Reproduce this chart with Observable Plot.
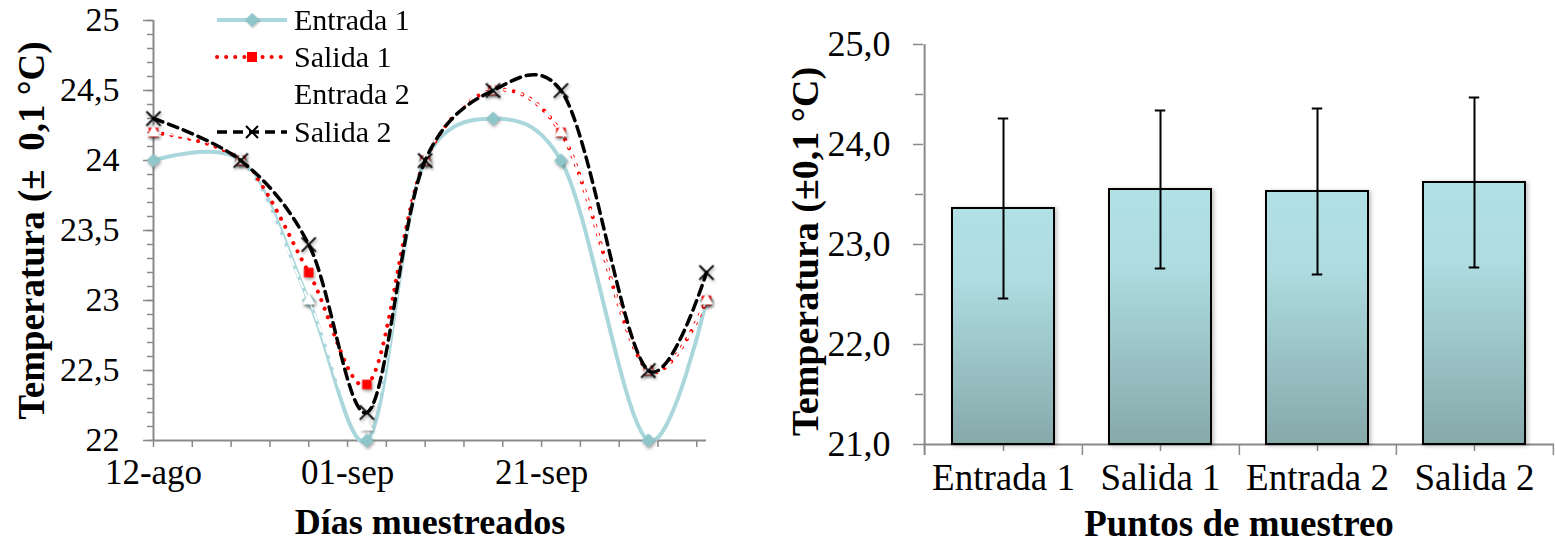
<!DOCTYPE html>
<html><head><meta charset="utf-8">
<script src="https://cdn.jsdelivr.net/npm/d3@7"></script>
<script src="https://cdn.jsdelivr.net/npm/@observablehq/plot@0.6"></script>
<style>
html,body{margin:0;padding:0;background:#fff;}
#wrap{position:relative;width:1555px;height:556px;overflow:hidden;font-family:"Liberation Serif","Times New Roman",serif;}
#left{position:absolute;left:0;top:0;}
#right{position:absolute;left:760px;top:0;}
#legend{position:absolute;left:217px;top:1px;}
.row{display:flex;align-items:center;height:37.3px;}
.row svg{display:block;overflow:visible}
.row span{font-size:30px;margin-left:7px;line-height:1;color:#000;white-space:nowrap}
</style></head><body>
<div id="wrap"><div id="left"></div><div id="right"></div><div id="legend"></div></div>
<script>
// ---------- data: left chart ----------
const dates = ["2013-08-12","2013-08-21","2013-08-28","2013-09-03","2013-09-09","2013-09-16","2013-09-23","2013-10-02","2013-10-08"];
const series = ["Entrada 1","Salida 1","Entrada 2","Salida 2"];
const entrada1 = [24.0, 24.0, 23.0, 22.0, 24.0, 24.3, 24.0, 22.0, 23.0];
const salida1  = [24.2, 24.0, 23.2, 22.4, 24.0, 24.5, 24.2, 22.5, 23.0];
const entrada2 = [24.2, 24.0, 23.0, 22.1, 24.0, 24.5, 24.2, 22.5, 23.0];
const salida2  = [24.3, 24.0, 23.4, 22.2, 24.0, 24.5, 24.5, 22.5, 23.2];
const xTickDates  = ["2013-08-12","2013-09-01","2013-09-21"];
const xTickLabels = ["12-ago","01-sep","21-sep"];
const yTicksLeft  = [22, 22.5, 23, 23.5, 24, 24.5, 25];
const yDomainLeft = [22, 25];
const xTitleLeft = "Días muestreados";
const yTitleLeft = "Temperatura (±  0,1 °C)";

// ---------- data: right chart ----------
const points = ["Entrada 1","Salida 1","Entrada 2","Salida 2"];
const means  = [23.36, 23.55, 23.53, 23.62];
const errors = [0.90, 0.79, 0.83, 0.85];
const yTicksRight  = [21, 22, 23, 24, 25];
const yMinorRight  = [21.5, 22.5, 23.5, 24.5];
const yDomainRight = [21, 25];
const xTitleRight = "Puntos de muestreo";
const yTitleRight = "Temperatura (±0,1 °C)";

// ---------- styles ----------
const FONT = '"Liberation Serif","Times New Roman",serif';
const AXIS = "#898989";
const C_E1 = "#A9D7DB", C_E1M = "#8FC6CA";
const CURVE = "catmull-rom", ALPHA = 0.2;
const parse = d3.utcParse("%Y-%m-%d");
const comma = d => String(d).replace(".", ",");

const seriesVals = [entrada1, salida1, entrada2, salida2];
const rows = [];
series.forEach((s, i) => dates.forEach((d, j) => rows.push({series: s, date: parse(d), value: seriesVals[i][j]})));
const sub = s => rows.filter(r => r.series === s);
const xDomain = [parse(dates[0]), parse(dates[dates.length - 1])];
const minorX = d3.range(0, d3.utcDay.count(xDomain[0], xDomain[1]), 4).map(k => d3.utcDay.offset(xDomain[0], k));
const minorYLeft = d3.range(220, 251).map(v => v / 10);
const xTicks = xTickDates.map((d, i) => ({date: parse(d), label: xTickLabels[i]}));

const left = Plot.plot({
  width: 760, height: 556,
  marginLeft: 153, marginRight: 54, marginTop: 20, marginBottom: 116,
  x: {type: "utc", domain: xDomain, label: null},
  y: {domain: yDomainLeft, label: null},
  style: {fontFamily: FONT, fontSize: "34px", color: "#000", background: "transparent", overflow: "visible"},
  marks: [
    Plot.axisY(minorYLeft, {tickSize: 6, tickFormat: () => "", stroke: AXIS, strokeWidth: 1.5}),
    Plot.axisY(yTicksLeft, {tickSize: 10, tickPadding: 24, tickFormat: comma, fontSize: 34, stroke: AXIS, strokeWidth: 1.5, fill: "#000"}),
    Plot.axisX(minorX, {tickSize: 7, tickFormat: () => "", stroke: AXIS, strokeWidth: 1.5}),
    Plot.ruleX([xDomain[0]], {stroke: AXIS, strokeWidth: 2}),
    Plot.ruleY([yDomainLeft[0]], {stroke: AXIS, strokeWidth: 2}),
    Plot.text(xTicks, {x: "date", text: "label", frameAnchor: "bottom", dy: 43, fontSize: 35}),
    Plot.text([xTitleLeft], {frameAnchor: "bottom", dy: 93, fontSize: 36, fontWeight: "bold"}),
    Plot.text([yTitleLeft], {frameAnchor: "left", rotate: -90, dx: -121, textAnchor: "middle", fontSize: 37, fontWeight: "bold"}),
    // Entrada 1
    Plot.line(sub("Entrada 1"), {x: "date", y: "value", stroke: C_E1, strokeWidth: 4, curve: CURVE, tension: ALPHA}),
    Plot.dot(sub("Entrada 1"), {x: "date", y: "value", symbol: "diamond2", r: 6.3, fill: C_E1M, stroke: "none"}),
    // Salida 1
    Plot.line(sub("Salida 1"), {x: "date", y: "value", stroke: "#FF0000", strokeWidth: 4, strokeDasharray: "0.1,9", strokeLinecap: "round", curve: CURVE, tension: ALPHA}),
    Plot.dot(sub("Salida 1"), {x: "date", y: "value", symbol: "square", r: 5.4, fill: "#FF0000", stroke: "none"}),
    // Entrada 2 (white)
    Plot.line(sub("Entrada 2"), {x: "date", y: "value", stroke: "#FFFFFF", strokeWidth: 2, strokeDasharray: "7,5", curve: CURVE, tension: ALPHA}),
    Plot.dot(sub("Entrada 2"), {x: "date", y: "value", symbol: "triangle", r: 5, fill: "#FFFFFF", stroke: "none"}),
    // Salida 2
    Plot.line(sub("Salida 2"), {x: "date", y: "value", stroke: "#000", strokeWidth: 3.5, strokeDasharray: "10,6", curve: CURVE, tension: ALPHA}),
    Plot.dot(sub("Salida 2"), {x: "date", y: "value", symbol: "times", r: 6.5, stroke: "#000", strokeWidth: 2})
  ]
});
left.querySelectorAll('g[aria-label="dot"]').forEach(g => g.style.filter = "drop-shadow(1.5px 2px 1.5px rgba(0,0,0,0.35))");
document.getElementById("left").appendChild(left);

// ---------- right chart ----------
const RW = 795, RH = 556, RmL = 163, RmR = 1, RmT = 44, RmB = 112;
const step = (RW - RmL - RmR) / points.length;
const pxPerUnit = (RH - RmT - RmB) / (yDomainRight[1] - yDomainRight[0]);
const tickU = 11 / pxPerUnit;
const barData = points.map((p, i) => ({point: p, mean: means[i], err: errors[i]}));
const bandW = step * 0.65, capW = 11, capInset = (bandW - capW) / 2;

function gradientDefs() {
  const defs = document.createElementNS("http://www.w3.org/2000/svg", "defs");
  defs.innerHTML = '<linearGradient id="barGrad" x1="0" y1="0" x2="0" y2="1">' +
    '<stop offset="0" stop-color="#B2E1E5"/><stop offset="0.3" stop-color="#AEDCE0"/>' +
    '<stop offset="1" stop-color="#86A9AA"/></linearGradient>';
  return defs;
}

const right = Plot.plot({
  width: RW, height: RH,
  marginLeft: RmL, marginRight: RmR, marginTop: RmT, marginBottom: RmB,
  x: {type: "band", domain: points, paddingInner: 0.35, paddingOuter: 0.175, label: null},
  y: {domain: yDomainRight, label: null},
  style: {fontFamily: FONT, fontSize: "36px", color: "#000", background: "transparent", overflow: "visible"},
  marks: [
    gradientDefs,
    Plot.axisY(yMinorRight, {tickSize: 8, tickFormat: () => "", stroke: AXIS, strokeWidth: 1.5}),
    Plot.axisY(yTicksRight, {tickSize: 10, tickPadding: 23, tickFormat: d => d.toFixed(1).replace(".", ","), fontSize: 36, stroke: AXIS, strokeWidth: 1.5, fill: "#000"}),
    Plot.axisX(points, {tickSize: 7, tickFormat: () => "", stroke: AXIS, strokeWidth: 1.5}),
    Plot.ruleX([points[0]], {y1: yDomainRight[1], y2: yDomainRight[0] - tickU, dx: -step / 2, stroke: AXIS, strokeWidth: 2}),
    Plot.ruleX(points, {y1: yDomainRight[0], y2: yDomainRight[0] - tickU, dx: step / 2, stroke: AXIS, strokeWidth: 1.5}),
    Plot.ruleY([yDomainRight[0]], {stroke: AXIS, strokeWidth: 2}),
    Plot.barY(barData, {x: "point", y1: () => yDomainRight[0], y2: "mean", fill: "url(#barGrad)", stroke: "#000", strokeWidth: 2}),
    Plot.ruleX(barData, {x: "point", y1: d => d.mean - d.err, y2: d => d.mean + d.err, stroke: "#000", strokeWidth: 2}),
    Plot.tickY(barData, {x: "point", y: d => d.mean + d.err, insetLeft: capInset, insetRight: capInset, stroke: "#000", strokeWidth: 2}),
    Plot.tickY(barData, {x: "point", y: d => d.mean - d.err, insetLeft: capInset, insetRight: capInset, stroke: "#000", strokeWidth: 2}),
    Plot.text(points, {x: d => d, frameAnchor: "bottom", dy: 45, fontSize: 37}),
    Plot.text([xTitleRight], {frameAnchor: "bottom", dy: 91, fontSize: 37, fontWeight: "bold"}),
    Plot.text([yTitleRight], {frameAnchor: "left", rotate: -90, dx: -118, dy: 7, textAnchor: "middle", fontSize: 38, fontWeight: "bold"})
  ]
});
right.querySelectorAll('g[aria-label="bar"]').forEach(g => g.style.filter = "drop-shadow(2px 1px 2px rgba(0,0,0,0.25))");
document.getElementById("right").appendChild(right);

// ---------- legend ----------
const legendSpecs = {
  "Entrada 1": {stroke: C_E1, width: 4, dash: null, marker: "diamond", mfill: C_E1M},
  "Salida 1":  {stroke: "#FF0000", width: 4, dash: "0.1,9", cap: "round", marker: "square", mfill: "#FF0000"},
  "Entrada 2": {stroke: "#FFFFFF", width: 2, dash: null, marker: "triangle", mfill: "#FFFFFF"},
  "Salida 2":  {stroke: "#000", width: 3.5, dash: "10,6", marker: "times", mfill: "#000"}
};
const leg = document.getElementById("legend");
series.forEach(s => {
  const sp = legendSpecs[s];
  const row = document.createElement("div");
  row.className = "row";
  let mk = "";
  if (sp.marker === "diamond") mk = `<path d="M35,4 L42,11 L35,18 L28,11 Z" fill="${sp.mfill}" style="filter:drop-shadow(1px 1.5px 1px rgba(0,0,0,0.3))"/>`;
  if (sp.marker === "square") mk = `<rect x="30" y="6" width="10" height="10" fill="${sp.mfill}"/>`;
  if (sp.marker === "triangle") mk = `<path d="M35,5 L41,16 L29,16 Z" fill="${sp.mfill}"/>`;
  if (sp.marker === "times") mk = `<path d="M29,5 L41,17 M29,17 L41,5" stroke="${sp.mfill}" stroke-width="2"/>`;
  row.innerHTML = `<svg width="70" height="22"><line x1="0" y1="11" x2="70" y2="11" stroke="${sp.stroke}" stroke-width="${sp.width}" ${sp.dash ? `stroke-dasharray="${sp.dash}"` : ""} ${sp.cap ? `stroke-linecap="${sp.cap}"` : ""}/>${mk}</svg><span>${s}</span>`;
  leg.appendChild(row);
});
</script>
</body></html>
